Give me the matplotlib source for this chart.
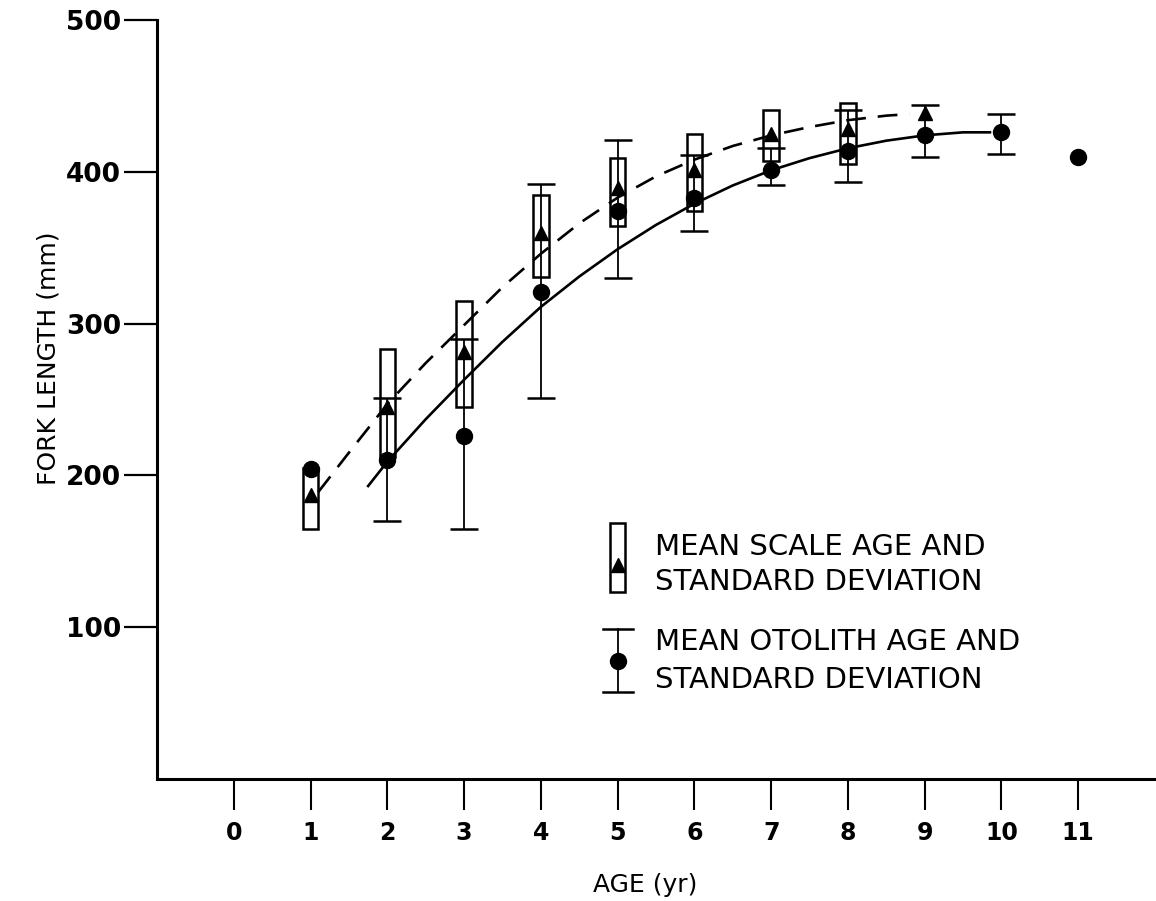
import numpy as np
import matplotlib
matplotlib.use("Agg")
import matplotlib.pyplot as plt

# scale ages: mean (triangle) and +/- 1 SD box
scale_age = [1, 2, 3, 4, 5, 6, 7, 8, 9]
scale_mean = [187, 245, 281, 360, 389, 401, 425, 428, 439]
scale_hi = [205, 283, 315, 385, 409, 425, 441, 445, np.nan]
scale_lo = [165, 212, 245, 331, 364, 374, 407, 405, np.nan]

# otolith ages: mean (circle) and +/- 1 SD bars
oto_age = [1, 2, 3, 4, 5, 6, 7, 8, 9, 10, 11]
oto_mean = [204, 210, 226, 321, 374, 383, 401, 414, 424, 426, 410]
oto_hi = [np.nan, 251, 290, 392, 421, 411, 416, 441, 444, 438, np.nan]
oto_lo = [np.nan, 170, 165, 251, 330, 361, 391, 393, 410, 412, np.nan]

# fitted growth curves
fit_scale_t = [1.1, 1.5, 2, 2.5, 3, 3.5, 4, 4.5, 5, 5.5, 6, 6.5, 7, 7.5, 8, 8.5, 8.8]
fit_scale_L = [189, 215, 247, 274, 299, 324, 346, 366, 383, 397, 408, 417, 424, 429.5, 434, 437, 438]
fit_oto_t = [1.75, 2, 2.5, 3, 3.5, 4, 4.5, 5, 5.5, 6, 6.5, 7, 7.5, 8, 8.5, 9, 9.5, 9.85]
fit_oto_L = [193, 209, 237, 263, 288, 311, 331, 349, 365, 379, 391, 401, 409, 415.5, 420.5, 424, 426, 426]

xticks = list(range(0, 12))
yticks = [100, 200, 300, 400, 500]

fig = plt.figure(figsize=(11.56, 9.01), dpi=100)
ax = fig.add_axes([157/1156, (901-779)/901, (1155-157)/1156, (779-20)/901])

ax.plot(fit_scale_t, fit_scale_L, color='k', lw=1.9, dashes=(7.5, 4.5), zorder=2)
ax.plot(fit_oto_t, fit_oto_L, color='k', lw=1.9, zorder=2)

sa = np.array(scale_age, float)
shi, slo = np.array(scale_hi), np.array(scale_lo)
ok = ~np.isnan(shi)
ax.bar(sa[ok], shi[ok] - slo[ok], bottom=slo[ok], width=0.2, fill=False,
       edgecolor='k', linewidth=1.8, zorder=3)

oa = np.array(oto_age, float)
om, ohi, olo = np.array(oto_mean, float), np.array(oto_hi), np.array(oto_lo)
ok2 = ~np.isnan(ohi)
ax.errorbar(oa[ok2], om[ok2], yerr=[om[ok2] - olo[ok2], ohi[ok2] - om[ok2]],
            fmt='none', ecolor='k', elinewidth=1.3, capsize=10, capthick=1.8, zorder=3)
ax.plot(oa, om, 'o', color='k', ms=11.5, zorder=4)
ax.plot(scale_age, scale_mean, '^', color='k', ms=10, zorder=5)

ax.set_xlim(-1, 12)
ax.set_ylim(0, 500)
ax.spines['top'].set_visible(False)
ax.spines['right'].set_visible(False)
ax.spines['left'].set_linewidth(2.2)
ax.spines['bottom'].set_linewidth(2.2)

ax.set_xticks(xticks)
ax.set_yticks(yticks)
ax.tick_params(axis='x', direction='out', length=22, width=1.5, pad=8)
ax.tick_params(axis='y', direction='out', length=24, width=1.6, pad=2)
for lab in ax.get_xticklabels():
    lab.set_fontweight('bold')
    lab.set_fontsize(17)
for lab in ax.get_yticklabels():
    lab.set_fontweight('bold')
    lab.set_fontsize(19)

ax.set_xlabel("AGE (yr)", fontsize=18, va='center')
ax.set_ylabel("FORK LENGTH (mm)", fontsize=18)
ax.xaxis.set_label_coords(0.489, -0.139)
ax.yaxis.set_label_coords(-0.097, 0.555)

# hand-drawn legend
tr = ax.transAxes
ax.add_patch(plt.Rectangle((0.454, 0.247), 0.015, 0.09, transform=tr, fill=False,
                           edgecolor='k', lw=1.8, clip_on=False))
ax.plot([0.4615], [0.282], '^', color='k', ms=10, transform=tr, clip_on=False)
ax.plot([0.462, 0.462], [0.115, 0.197], color='k', lw=1.3, transform=tr, clip_on=False)
for yy in (0.115, 0.197):
    ax.plot([0.447, 0.477], [yy, yy], color='k', lw=1.8, transform=tr, clip_on=False)
ax.plot([0.462], [0.155], 'o', color='k', ms=11.5, transform=tr, clip_on=False)

ax.text(0.499, 0.306, "MEAN SCALE AGE AND", transform=tr, fontsize=21, va='center')
ax.text(0.499, 0.260, "STANDARD DEVIATION", transform=tr, fontsize=21, va='center')
ax.text(0.499, 0.181, "MEAN OTOLITH AGE AND", transform=tr, fontsize=21, va='center')
ax.text(0.499, 0.131, "STANDARD DEVIATION", transform=tr, fontsize=21, va='center')

fig.savefig("out.png", dpi=100)
